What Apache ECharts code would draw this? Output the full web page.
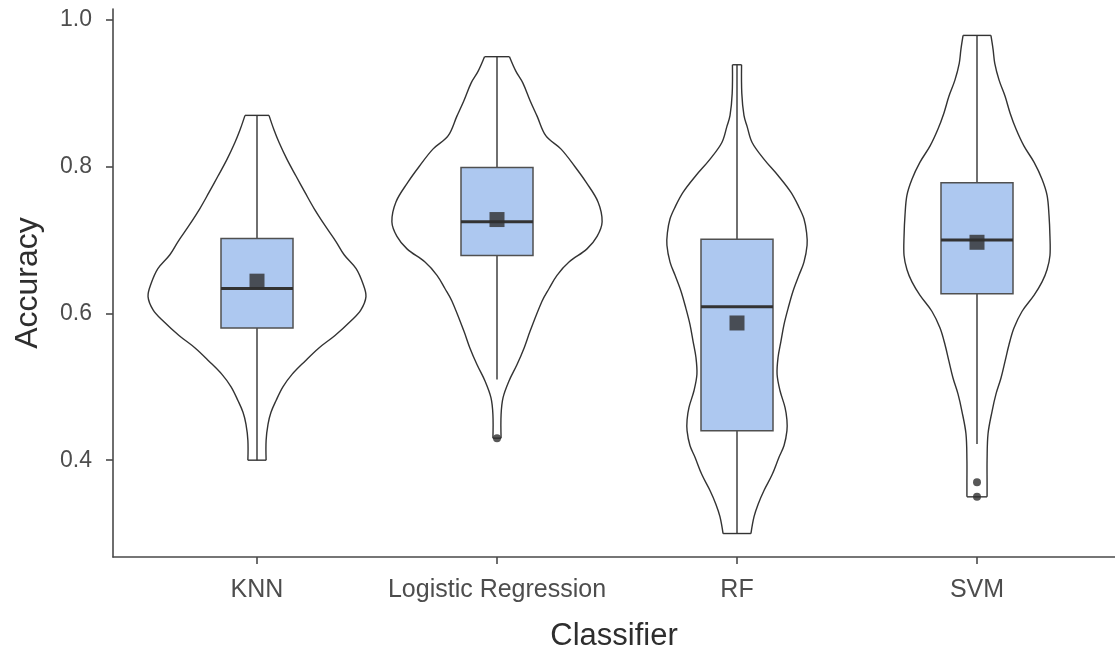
<!DOCTYPE html>
<html>
<head>
<meta charset="utf-8">
<title>Accuracy by classifier</title>
<script src="https://cdn.jsdelivr.net/npm/echarts@6/dist/echarts.min.js"></script>
<style>
  html, body { margin: 0; padding: 0; background: #ffffff; }
  #chart { width: 1115px; height: 657px; }
</style>
</head>
<body>
<div id="chart"></div>
<script>
// ---- data ----
const classifiers = ['KNN', 'Logistic Regression', 'RF', 'SVM'];
const yTicks = [0.4, 0.6, 0.8, 1.0];

// Violin outlines: accuracy levels (top to bottom) and kernel-density half-width,
// expressed as a fraction of the spacing between classifiers.
const knnLevels  = [0.870, 0.850, 0.833, 0.810, 0.787, 0.765, 0.743, 0.720, 0.698, 0.680, 0.661, 0.640, 0.623, 0.605, 0.590, 0.570, 0.553, 0.535, 0.517, 0.500, 0.481, 0.465, 0.449, 0.427, 0.400];
const knnDensity = [0.050, 0.071, 0.092, 0.125, 0.163, 0.200, 0.238, 0.283, 0.329, 0.363, 0.413, 0.442, 0.454, 0.433, 0.392, 0.325, 0.258, 0.200, 0.146, 0.108, 0.079, 0.058, 0.046, 0.038, 0.038];

const lrLevels  = [0.950, 0.930, 0.914, 0.890, 0.869, 0.842, 0.824, 0.800, 0.779, 0.752, 0.725, 0.705, 0.688, 0.670, 0.652, 0.634, 0.617, 0.576, 0.553, 0.530, 0.508, 0.485, 0.462, 0.430];
const lrDensity = [0.052, 0.079, 0.108, 0.138, 0.167, 0.204, 0.267, 0.325, 0.371, 0.421, 0.438, 0.417, 0.375, 0.300, 0.250, 0.217, 0.188, 0.138, 0.113, 0.083, 0.050, 0.025, 0.017, 0.017];

const rfLevels  = [0.939, 0.900, 0.870, 0.855, 0.833, 0.810, 0.788, 0.765, 0.745, 0.729, 0.710, 0.693, 0.670, 0.652, 0.630, 0.607, 0.585, 0.562, 0.540, 0.517, 0.495, 0.472, 0.455, 0.440, 0.420, 0.404, 0.380, 0.359, 0.340, 0.323, 0.300];
const rfDensity = [0.019, 0.020, 0.029, 0.042, 0.063, 0.113, 0.171, 0.225, 0.258, 0.279, 0.290, 0.292, 0.279, 0.258, 0.233, 0.213, 0.196, 0.183, 0.171, 0.167, 0.179, 0.200, 0.208, 0.208, 0.196, 0.175, 0.146, 0.113, 0.088, 0.071, 0.058];

const svmLevels  = [0.979, 0.960, 0.941, 0.918, 0.896, 0.873, 0.851, 0.828, 0.806, 0.783, 0.761, 0.734, 0.705, 0.679, 0.660, 0.643, 0.625, 0.603, 0.580, 0.557, 0.535, 0.512, 0.490, 0.467, 0.436, 0.400, 0.370, 0.350];
const svmDensity = [0.058, 0.067, 0.074, 0.092, 0.117, 0.138, 0.163, 0.196, 0.238, 0.271, 0.292, 0.300, 0.304, 0.304, 0.292, 0.271, 0.238, 0.188, 0.154, 0.133, 0.117, 0.100, 0.079, 0.063, 0.046, 0.042, 0.042, 0.042];

// Box-plot summaries per classifier
const whiskerLow  = [0.400, 0.510, 0.300, 0.422];
const q1          = [0.580, 0.679, 0.440, 0.627];
const median      = [0.634, 0.725, 0.609, 0.700];
const q3          = [0.702, 0.799, 0.701, 0.778];
const whiskerHigh = [0.870, 0.950, 0.939, 0.979];
const meanAcc     = [0.644, 0.728, 0.587, 0.697];

// Outlying runs
const outlierClass = [1, 3, 3];
const outlierAcc   = [0.430, 0.370, 0.350];

// ---- chart ----
const violinLevels  = [knnLevels, lrLevels, rfLevels, svmLevels];
const violinDensity = [knnDensity, lrDensity, rfDensity, svmDensity];

const FONT = "'Liberation Sans', Arial, sans-serif";
const BOX_HALF = 0.15;
const OUTLINE = { stroke: '#333333', lineWidth: 1.4, fill: null };

const chart = echarts.init(document.getElementById('chart'), null, { renderer: 'canvas' });

const option = {
  backgroundColor: '#ffffff',
  animation: false,
  grid: { left: 113, right: 0, top: 9, bottom: 97, containLabel: false },
  xAxis: {
    type: 'value',
    min: -0.6,
    max: 3.575,
    name: 'Classifier',
    nameLocation: 'middle',
    nameGap: 64,
    nameTextStyle: { fontFamily: FONT, fontSize: 31, color: '#2e2e2e' },
    axisLine: { show: true, onZero: false, lineStyle: { color: '#4a4a4a', width: 1.6 } },
    axisTick: { show: true, length: 7, customValues: [0, 1, 2, 3], lineStyle: { color: '#4a4a4a', width: 1.6 } },
    axisLabel: {
      customValues: [0, 1, 2, 3],
      formatter: v => classifiers[Math.round(v)] || '',
      fontFamily: FONT, fontSize: 25, color: '#4d4d4d', margin: 21
    },
    splitLine: { show: false }
  },
  yAxis: {
    type: 'value',
    min: 0.268,
    max: 1.015,
    name: 'Accuracy',
    nameLocation: 'middle',
    nameGap: 69,
    nameRotate: 90,
    nameTextStyle: { fontFamily: FONT, fontSize: 32, color: '#2e2e2e' },
    axisLine: { show: true, onZero: false, lineStyle: { color: '#4a4a4a', width: 1.6 } },
    axisTick: { show: true, length: 7, customValues: yTicks, lineStyle: { color: '#4a4a4a', width: 1.6 } },
    axisLabel: {
      customValues: yTicks,
      formatter: v => v.toFixed(1),
      fontFamily: FONT, fontSize: 23, color: '#4d4d4d', margin: 21
    },
    splitLine: { show: false }
  },
  series: [
    {
      name: 'violin',
      type: 'custom',
      z: 1,
      clip: false,
      data: classifiers.map((c, i) => [i, median[i]]),
      encode: { x: 0, y: 1 },
      renderItem: (params, api) => {
        const i = api.value(0);
        const lv = violinLevels[i];
        const dn = violinDensity[i];
        const right = [], left = [];
        for (let k = 0; k < lv.length; k++) {
          right.push(api.coord([i + dn[k], lv[k]]));
          left.push(api.coord([i - dn[k], lv[k]]));
        }
        const n = lv.length - 1;
        return {
          type: 'group',
          children: [
            { type: 'polyline', shape: { points: right, smooth: 0.35 }, style: OUTLINE },
            { type: 'polyline', shape: { points: left, smooth: 0.35 }, style: OUTLINE },
            { type: 'line', shape: { x1: left[0][0], y1: left[0][1], x2: right[0][0], y2: right[0][1] }, style: OUTLINE },
            { type: 'line', shape: { x1: left[n][0], y1: left[n][1], x2: right[n][0], y2: right[n][1] }, style: OUTLINE }
          ]
        };
      }
    },
    {
      name: 'box',
      type: 'custom',
      z: 2,
      clip: false,
      data: classifiers.map((c, i) => [i, whiskerLow[i], q1[i], median[i], q3[i], whiskerHigh[i]]),
      encode: { x: 0, y: [1, 2, 3, 4, 5] },
      renderItem: (params, api) => {
        const i = api.value(0);
        const lo = api.value(1), a = api.value(2), m = api.value(3), b = api.value(4), hi = api.value(5);
        const top = api.coord([i, hi]), bot = api.coord([i, lo]);
        const qa = api.coord([i, a]), qb = api.coord([i, b]);
        const l = api.coord([i - BOX_HALF, b]);
        const r = api.coord([i + BOX_HALF, a]);
        const ml = api.coord([i - BOX_HALF, m]);
        const mr = api.coord([i + BOX_HALF, m]);
        const line = { stroke: '#333333', lineWidth: 1.4 };
        return {
          type: 'group',
          children: [
            { type: 'line', shape: { x1: top[0], y1: top[1], x2: qb[0], y2: qb[1] }, style: line },
            { type: 'line', shape: { x1: qa[0], y1: qa[1], x2: bot[0], y2: bot[1] }, style: line },
            { type: 'rect', shape: { x: l[0], y: l[1], width: r[0] - l[0], height: r[1] - l[1] },
              style: { fill: '#adc8f0', stroke: '#505050', lineWidth: 1.5 } },
            { type: 'line', shape: { x1: ml[0], y1: ml[1], x2: mr[0], y2: mr[1] },
              style: { stroke: '#333333', lineWidth: 3 } }
          ]
        };
      }
    },
    {
      name: 'outliers',
      type: 'scatter',
      z: 3,
      symbol: 'circle',
      symbolSize: 8,
      itemStyle: { color: '#2e2e2e' },
      data: outlierClass.map((c, k) => [c, outlierAcc[k]])
    },
    {
      name: 'mean',
      type: 'scatter',
      z: 4,
      symbol: 'rect',
      symbolSize: 15,
      itemStyle: { color: '#2e2e2e' },
      data: meanAcc.map((v, i) => [i, v])
    }
  ]
};

chart.setOption(option);
</script>
</body>
</html>
